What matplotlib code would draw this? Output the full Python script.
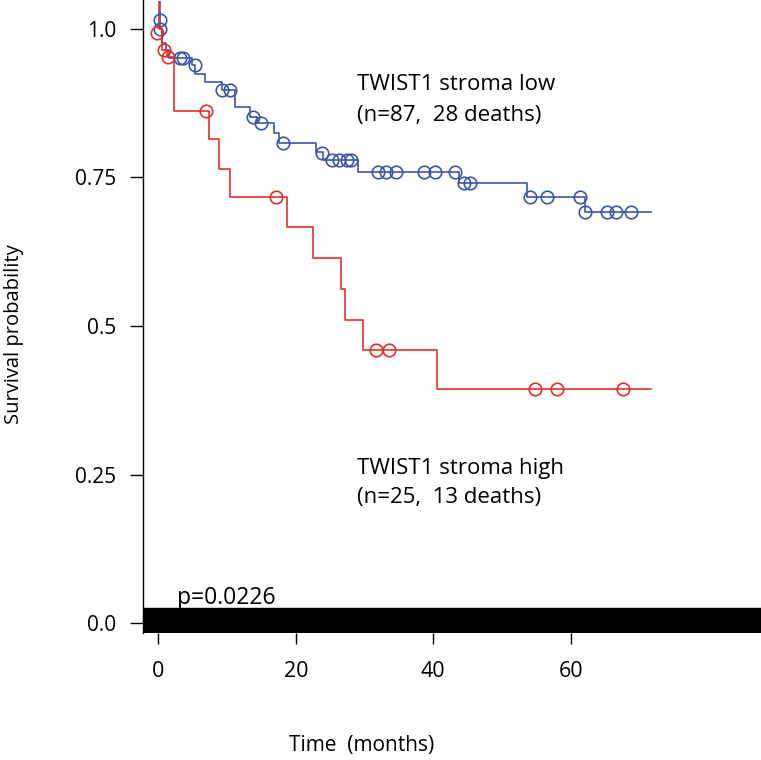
import matplotlib
matplotlib.use("Agg")
import matplotlib.pyplot as plt

# ---------------- data ----------------
# step curves (time in months, survival probability), drawn with step 'post'
low_t = [0.3, 0.3, 0.6, 1.1, 1.6, 4.9, 5.3, 6.85, 9.3, 11.1, 13.3, 14.4, 16.8, 17.5,
         22.9, 24.0, 29.0, 43.8, 53.7, 62.0, 71.6]
low_s = [1.045, 1.0, 0.977, 0.965, 0.951, 0.939, 0.924, 0.911, 0.897, 0.869, 0.852,
         0.841, 0.825, 0.8086, 0.793, 0.779, 0.760, 0.740, 0.7177, 0.6924, 0.6924]
low_cens_t = [0.3, 0.3, 3.2, 3.6, 5.4, 9.2, 10.4, 13.75, 15.0, 18.1, 23.8, 25.2, 26.3,
              27.5, 28.0, 31.9, 33.1, 34.6, 38.7, 40.3, 43.1, 44.4, 45.4, 54.0, 56.5,
              61.4, 62.1, 65.3, 66.6, 68.8]
low_cens_s = [1.015, 1.0, 0.951, 0.951, 0.939, 0.897, 0.897, 0.852, 0.841, 0.8086,
              0.792, 0.779, 0.779, 0.779, 0.779, 0.760, 0.760, 0.760, 0.760, 0.760,
              0.760, 0.740, 0.740, 0.7177, 0.7177, 0.7177, 0.6924, 0.6924, 0.6924,
              0.6924]

high_t = [0.1, 0.1, 0.5, 1.2, 2.25, 7.33, 8.9, 10.4, 18.66, 22.5, 26.6, 27.2, 29.8,
          40.6, 71.7]
high_s = [1.045, 1.0, 0.965, 0.953, 0.862, 0.814, 0.765, 0.718, 0.666, 0.615, 0.562,
          0.510, 0.4596, 0.3945, 0.3945]
high_cens_t = [-0.15, 0.87, 1.46, 6.9, 17.06, 31.7, 33.6, 54.8, 58.0, 67.6]
high_cens_s = [0.993, 0.965, 0.953, 0.862, 0.718, 0.4596, 0.4596, 0.3945, 0.3945,
               0.3945]

x_ticks = [0, 20, 40, 60]
y_ticks = [0.0, 0.25, 0.5, 0.75, 1.0]
y_ticklabels = ["0.0", "0.25", "0.5", "0.75", "1.0"]

label_low = "TWIST1 stroma low\n(n=87,  28 deaths)"
label_high = "TWIST1 stroma high\n(n=25,  13 deaths)"
p_text = "p=0.0226"

# ---------------- style ----------------
FONT = "Open Sans"
BLUE = "#3d55a5"
RED = "#e0302e"
W, H = 761, 760

fig = plt.figure(figsize=(W / 100, H / 100), dpi=100)
ax = fig.add_axes([143 / W, (H - 633) / H, 1 - 143 / W, 633 / H])
ax.set_xlim(-2.225, 87.67)
ax.set_ylim(-0.0168, 1.0488)

# thick black band at zero
ax.axhspan(-0.0168, 0.0253, color="black", zorder=1)

ax.step(low_t, low_s, where="post", color=BLUE, lw=1.2, zorder=3)
ax.plot(low_cens_t, low_cens_s, "o", ms=9, mfc="none", mec=BLUE, mew=1.2, zorder=4)
ax.step(high_t, high_s, where="post", color=RED, lw=1.2, zorder=3)
ax.plot(high_cens_t, high_cens_s, "o", ms=9, mfc="none", mec=RED, mew=1.2, zorder=4)

for s in ["top", "right", "bottom"]:
    ax.spines[s].set_visible(False)
ax.spines["left"].set_linewidth(1.0)

ax.set_xticks(x_ticks)
ax.set_xticklabels([str(v) for v in x_ticks], fontfamily=FONT, fontsize=15.5)
ax.set_yticks(y_ticks)
ax.set_yticklabels(y_ticklabels, fontfamily=FONT, fontsize=15)
ax.tick_params(axis="x", length=8, width=1.0, pad=12, direction="out")
ax.tick_params(axis="y", length=9.5, width=1.0, pad=10, direction="out")

fig.text(357 / W, 1 - 100 / H, label_low, fontfamily=FONT, fontsize=16,
         va="center", ha="left", linespacing=1.6)
fig.text(357 / W, 1 - 483 / H, label_high, fontfamily=FONT, fontsize=16,
         va="center", ha="left", linespacing=1.55)
fig.text(177 / W, 1 - 598 / H, p_text, fontfamily=FONT, fontsize=16.5,
         va="center", ha="left")
fig.text(362 / W, 1 - 746 / H, "Time  (months)", fontfamily=FONT, fontsize=15,
         va="center", ha="center")
fig.text(14 / W, 1 - 334 / H, "Survival probability", fontfamily=FONT, fontsize=14.5,
         va="center", ha="center", rotation=90)

fig.savefig("out.png", dpi=100)
